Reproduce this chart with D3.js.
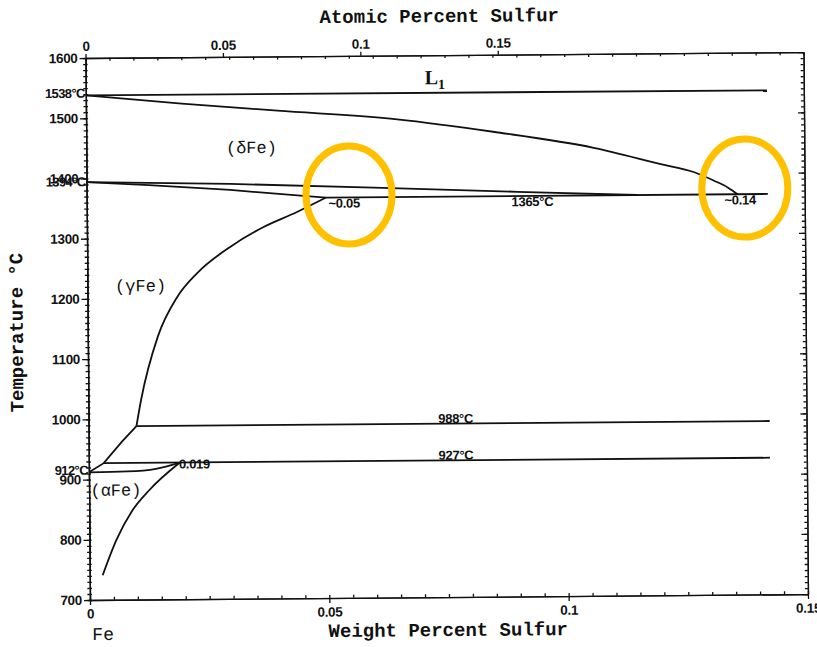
<!DOCTYPE html>
<html>
<head>
<meta charset="utf-8">
<script src="https://cdn.jsdelivr.net/npm/d3@7"></script>
<style>
  body { margin: 0; background: #fff; }
  svg text { fill: #111; }
</style>
</head>
<body>
<div id="chart"></div>
<script>
// tick values
var tempTicks = [700, 800, 900, 1000, 1100, 1200, 1300, 1400, 1500, 1600];
var weightTicks = [0, 0.05, 0.1, 0.15];
var atomicTicks = [0, 0.05, 0.1, 0.15];

// phase boundaries, [weight % S, temperature C]
var liquidus = [[0, 1538], [0.1423, 1537]];
var deltaSolidus = [[0, 1538], [0.02, 1523], [0.04, 1510], [0.065, 1494], [0.085, 1472],
    [0.106, 1444], [0.12, 1416], [0.127, 1402], [0.131, 1388], [0.134, 1376], [0.136, 1365]];
var deltaSolvus = [[0, 1394], [0.03, 1389], [0.06, 1381], [0.09, 1372], [0.115, 1365]];
var gammaDelta = [[0, 1394], [0.013, 1388], [0.03, 1379], [0.044, 1369], [0.05, 1365]];
var line1365 = [[0.05, 1365], [0.1423, 1365]];
var gammaSolvus = [[0.010, 988], [0.011, 1031], [0.0146, 1136], [0.01875, 1202], [0.0229, 1241],
    [0.0298, 1284], [0.0369, 1317], [0.0438, 1341], [0.05, 1365]];
var line988 = [[0.010, 988], [0.1423, 988]];
var gammaAlpha = [[0, 912], [0.0031, 927], [0.0069, 962], [0.010, 988]];
var line927 = [[0.0031, 927], [0.1423, 927]];
var alphaGamma = [[0, 912], [0.008, 913], [0.014, 917], [0.019, 927]];
var alphaSolvus = [[0.0027, 741], [0.0056, 799], [0.009, 848], [0.0125, 881], [0.019, 927]];

// text on the diagram
var notes = [
    { text: '~0.05', wt: 0.0505, t: 1348, anchor: 'start' },
    { text: '1365°C', wt: 0.0931, t: 1348, anchor: 'middle' },
    { text: '~0.14', wt: 0.1365, t: 1348, anchor: 'middle' },
    { text: '988°C', wt: 0.0767, t: 989, anchor: 'middle' },
    { text: '927°C', wt: 0.0767, t: 928, anchor: 'middle' },
    { text: '0.019', wt: 0.0188, t: 917, anchor: 'start' }
];
var sideNotes = [
    { text: '1538°C', t: 1534 },
    { text: '1394°C', t: 1387 },
    { text: '912°C', t: 908 }
];
var phases = [
    { text: '(δFe)', wt: 0.0345, t: 1440 },
    { text: '(γFe)', wt: 0.0111, t: 1212 },
    { text: '(αFe)', wt: 0.0056, t: 873 }
];
var highlights = [{ wt: 0.0548, t: 1369 }, { wt: 0.1375, t: 1375 }];

var width = 817, height = 647;
var plotLeft = 90, plotRight = 808, plotTop = 58, plotBottom = 600;
var atomicMax = 0.15 * 55.845 / 32.06;

var x = d3.scaleLinear().domain([0, 0.15]).range([plotLeft, plotRight]);
var xAt = d3.scaleLinear().domain([0, atomicMax]).range([plotLeft, plotRight]);
var y = d3.scaleLinear().domain([700, 1600]).range([plotBottom, plotTop]);

var svg = d3.select('#chart').append('svg')
    .attr('width', width)
    .attr('height', height);

// the scan is tilted a little
var g = svg.append('g')
    .attr('transform', 'rotate(-0.47,' + plotLeft + ',' + plotBottom + ')');

var tickFont = '"Liberation Sans", Arial, sans-serif';
var monoFont = '"Liberation Mono", "Courier New", monospace';

function styleAxis(sel, fontSize) {
    sel.selectAll('path, line').attr('stroke', '#111').attr('stroke-width', 1.3);
    sel.selectAll('text')
        .style('font-family', tickFont)
        .style('font-size', fontSize + 'px')
        .style('font-weight', 'bold')
        .style('letter-spacing', '-0.3px')
        .attr('fill', '#111');
}
function fmt(d) { return d === 0 ? '0' : String(d); }

// left axis
g.append('g').attr('transform', 'translate(' + plotLeft + ',0)')
    .call(d3.axisLeft(y).tickValues(d3.range(700, 1601, 10)).tickSize(2.5).tickSizeOuter(0).tickFormat(''))
    .call(styleAxis, 12);
g.append('g').attr('transform', 'translate(' + plotLeft + ',0)')
    .call(d3.axisRight(y).tickValues(d3.range(700, 1601, 10)).tickSize(2).tickSizeOuter(0).tickFormat(''))
    .call(styleAxis, 12);
g.append('g').attr('transform', 'translate(' + plotLeft + ',0)')
    .call(d3.axisLeft(y).tickValues(tempTicks).tickSize(6).tickPadding(2).tickSizeOuter(0).tickFormat(d3.format('d')))
    .call(styleAxis, 13.5);

// right axis
g.append('g').attr('transform', 'translate(' + plotRight + ',0)')
    .call(d3.axisLeft(y).tickValues(d3.range(700, 1601, 10)).tickSize(3).tickSizeOuter(0).tickFormat(''))
    .call(styleAxis, 12);
g.append('g').attr('transform', 'translate(' + plotRight + ',0)')
    .call(d3.axisLeft(y).tickValues(tempTicks).tickSize(6).tickSizeOuter(0).tickFormat(''))
    .call(styleAxis, 12);

// bottom axis
g.append('g').attr('transform', 'translate(0,' + plotBottom + ')')
    .call(d3.axisBottom(x).tickValues(d3.range(0, 0.1501, 0.005)).tickSize(-3).tickSizeOuter(0).tickFormat(''))
    .call(styleAxis, 12);
g.append('g').attr('transform', 'translate(0,' + plotBottom + ')')
    .call(d3.axisBottom(x).tickValues(weightTicks).tickSize(5).tickPadding(4).tickSizeOuter(0).tickFormat(fmt))
    .call(styleAxis, 13.5);

// top axis
g.append('g').attr('transform', 'translate(0,' + plotTop + ')')
    .call(d3.axisTop(x).tickValues(d3.range(0, 0.1501, 0.005)).tickSize(-3).tickSizeOuter(0).tickFormat(''))
    .call(styleAxis, 12);
g.append('g').attr('transform', 'translate(0,' + plotTop + ')')
    .call(d3.axisTop(xAt).tickValues(atomicTicks).tickSize(4).tickPadding(3).tickSizeOuter(0).tickFormat(fmt))
    .call(styleAxis, 13.5);

// phase boundary lines
var line = d3.line()
    .x(function(d) { return x(d[0]); })
    .y(function(d) { return y(d[1]); });
var curve = d3.line()
    .x(function(d) { return x(d[0]); })
    .y(function(d) { return y(d[1]); })
    .curve(d3.curveMonotoneX);

var straight = [liquidus, line1365, line988, line927, gammaAlpha, deltaSolvus, gammaDelta];
var curved = [deltaSolidus, gammaSolvus, alphaGamma, alphaSolvus];

straight.forEach(function(d) {
    g.append('path').attr('d', line(d))
        .attr('fill', 'none').attr('stroke', '#111').attr('stroke-width', 1.8);
});
curved.forEach(function(d) {
    g.append('path').attr('d', curve(d))
        .attr('fill', 'none').attr('stroke', '#111').attr('stroke-width', 1.8);
});

// labels inside the plot
notes.forEach(function(n) {
    g.append('text')
        .attr('x', x(n.wt)).attr('y', y(n.t))
        .attr('text-anchor', n.anchor)
        .style('font-family', tickFont)
        .style('font-size', '13px')
        .style('font-weight', 'bold')
        .style('letter-spacing', '-0.3px')
        .text(n.text);
});
sideNotes.forEach(function(n) {
    g.append('text')
        .attr('x', plotLeft - 1).attr('y', y(n.t))
        .attr('text-anchor', 'end')
        .style('font-family', tickFont)
        .style('font-size', '13px')
        .style('font-weight', 'bold')
        .style('letter-spacing', '-0.6px')
        .text(n.text);
});
phases.forEach(function(p) {
    g.append('text')
        .attr('x', x(p.wt)).attr('y', y(p.t))
        .attr('text-anchor', 'middle')
        .style('font-family', monoFont)
        .style('font-size', '17px')
        .text(p.text);
});

var l1 = g.append('text')
    .attr('x', x(0.0708)).attr('y', y(1552))
    .style('font-family', '"Liberation Serif", serif')
    .style('font-size', '20px')
    .style('font-weight', 'bold');
l1.append('tspan').text('L');
l1.append('tspan').attr('dy', 5).style('font-size', '14px').text('1');

// axis titles
g.append('text')
    .attr('x', 444).attr('y', 25)
    .attr('text-anchor', 'middle')
    .style('font-family', monoFont)
    .style('font-size', '19px')
    .style('font-weight', 'bold')
    .text('Atomic Percent Sulfur');

g.append('text')
    .attr('x', 448).attr('y', 639)
    .attr('text-anchor', 'middle')
    .style('font-family', monoFont)
    .style('font-size', '19px')
    .style('font-weight', 'bold')
    .text('Weight Percent Sulfur');

g.append('text')
    .attr('x', 92).attr('y', 640)
    .style('font-family', monoFont)
    .style('font-size', '18px')
    .text('Fe');

g.append('text')
    .attr('transform', 'translate(25,332) rotate(-90)')
    .attr('text-anchor', 'middle')
    .style('font-family', monoFont)
    .style('font-size', '19px')
    .style('font-weight', 'bold')
    .text('Temperature °C');

// yellow rings
g.selectAll('ellipse.ring')
    .data(highlights)
    .enter().append('ellipse')
    .attr('class', 'ring')
    .attr('cx', function(d) { return x(d.wt); })
    .attr('cy', function(d) { return y(d.t); })
    .attr('rx', 43)
    .attr('ry', 49)
    .attr('fill', 'none')
    .attr('stroke', '#FFC000')
    .attr('stroke-width', 7);
</script>
</body>
</html>
